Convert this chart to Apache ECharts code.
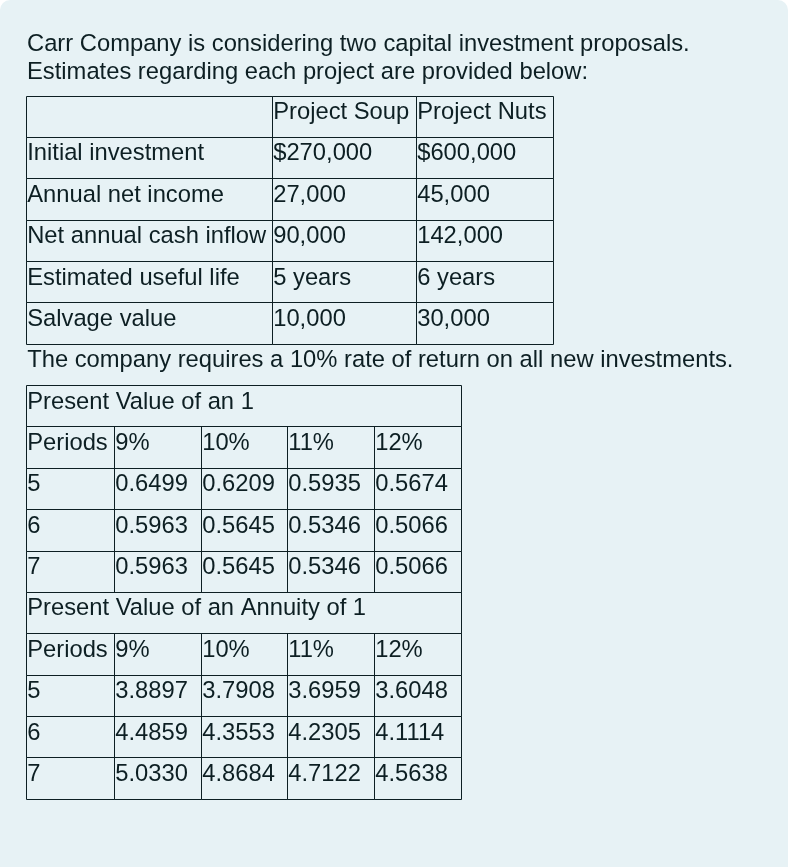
<!DOCTYPE html>
<html>
<head>
<meta charset="utf-8">
<script src="https://cdn.jsdelivr.net/npm/echarts@6/dist/echarts.min.js"></script>
<style>
html,body{margin:0;padding:0;background:#ffffff;}
#panel{position:absolute;left:0;top:0;width:788px;height:880px;background:#e7f2f5;border-radius:10px 10px 0 0;}
#chart{position:absolute;left:0;top:0;width:795px;height:867px;}
</style>
</head>
<body>
<div id="panel"></div>
<div id="chart"></div>
<script>
// ---- data ----
var introLines = ['Carr Company is considering two capital investment proposals.', 'Estimates regarding each project are provided below:'];
var projectHeaders = ['', 'Project Soup', 'Project Nuts'];
var projectItems = ['Initial investment', 'Annual net income', 'Net annual cash inflow', 'Estimated useful life', 'Salvage value'];
var soupValues = ['$270,000', '27,000', '90,000', '5 years', '10,000'];
var nutsValues = ['$600,000', '45,000', '142,000', '6 years', '30,000'];
var requirementText = 'The company requires a 10% rate of return on all new investments.';
var pvOneTitle = 'Present Value of an 1';
var pvAnnuityTitle = 'Present Value of an Annuity of 1';
var periodHeader = 'Periods';
var rates = ['9%', '10%', '11%', '12%'];
var periods = ['5', '6', '7'];
var pvOne = [
  [0.6499, 0.6209, 0.5935, 0.5674],
  [0.5963, 0.5645, 0.5346, 0.5066],
  [0.5963, 0.5645, 0.5346, 0.5066]
];
var pvAnnuity = [
  [3.8897, 3.7908, 3.6959, 3.6048],
  [4.4859, 4.3553, 4.2305, 4.1114],
  [5.0330, 4.8684, 4.7122, 4.5638]
];

// ---- layout (not data) ----
var FONT = '"Liberation Sans", Arial, sans-serif';
var FS = 23.75;
var INK = '#0d1f23';
var edges1 = [0, 246, 390, 527];
var edges2 = [0, 88, 175, 261, 348, 435];

// ---- build cells ----
var cells1 = [];
var cells2 = [];
var r = 0;
projectHeaders.forEach(function (h, c) { cells1.push({row: r, c0: c, c1: c + 1, text: h, border: true}); });
projectItems.forEach(function (item, i) {
  r = i + 1;
  cells1.push({row: r, c0: 0, c1: 1, text: item, border: true});
  cells1.push({row: r, c0: 1, c1: 2, text: soupValues[i], border: true});
  cells1.push({row: r, c0: 2, c1: 3, text: nutsValues[i], border: true});
});
cells1.push({row: 6, c0: 0, c1: 3, text: requirementText, border: false});

function addPvTable(startRow, title, values) {
  cells2.push({row: startRow, c0: 0, c1: 5, text: title, border: true});
  cells2.push({row: startRow + 1, c0: 0, c1: 1, text: periodHeader, border: true});
  rates.forEach(function (rt, j) { cells2.push({row: startRow + 1, c0: j + 1, c1: j + 2, text: rt, border: true}); });
  periods.forEach(function (p, i) {
    cells2.push({row: startRow + 2 + i, c0: 0, c1: 1, text: p, border: true});
    values[i].forEach(function (v, j) {
      cells2.push({row: startRow + 2 + i, c0: j + 1, c1: j + 2, text: v.toFixed(4), border: true});
    });
  });
}
addPvTable(7, pvOneTitle, pvOne);
addPvTable(12, pvAnnuityTitle, pvAnnuity);

function snap(v) { return Math.floor(v) + 0.5; }

function makeRender(cells, edges) {
  return function (params, api) {
    var cell = cells[params.dataIndex];
    var p0 = api.coord([edges[api.value(1)], api.value(0)]);
    var p1 = api.coord([edges[api.value(2)], api.value(0) + 1]);
    var children = [];
    if (cell.border) {
      var x0 = snap(p0[0]), y0 = snap(p0[1]), x1 = snap(p1[0]), y1 = snap(p1[1]);
      children.push({
        type: 'rect',
        shape: {x: x0, y: y0, width: x1 - x0, height: y1 - y0},
        style: {fill: null, stroke: INK, lineWidth: 1}
      });
    }
    if (cell.text) {
      children.push({
        type: 'text',
        style: {
          x: p0[0] + 1.2, y: p0[1] + 16.5,
          text: cell.text, fill: INK,
          font: FS + 'px ' + FONT,
          align: 'left', verticalAlign: 'middle'
        }
      });
    }
    return {type: 'group', children: children};
  };
}

var chart = echarts.init(document.getElementById('chart'), null, {renderer: 'canvas'});
chart.setOption({
  backgroundColor: 'transparent',
  animation: false,
  title: {
    text: introLines.join('\n'),
    left: 27, top: 30, padding: 0,
    textStyle: {fontFamily: FONT, fontSize: FS, fontWeight: 'normal', color: INK, lineHeight: 28}
  },
  grid: {left: 26, top: 96, width: 527, height: 703.3},
  xAxis: {type: 'value', min: 0, max: 527, show: false},
  yAxis: {type: 'value', min: 0, max: 17, inverse: true, show: false},
  series: [
    {
      type: 'custom', coordinateSystem: 'cartesian2d', silent: true, clip: false,
      renderItem: makeRender(cells1, edges1),
      data: cells1.map(function (c) { return [c.row, c.c0, c.c1]; }),
      encode: {x: 1, y: 0}
    },
    {
      type: 'custom', coordinateSystem: 'cartesian2d', silent: true, clip: false,
      renderItem: makeRender(cells2, edges2),
      data: cells2.map(function (c) { return [c.row, c.c0, c.c1]; }),
      encode: {x: 1, y: 0}
    }
  ]
});
</script>
</body>
</html>
